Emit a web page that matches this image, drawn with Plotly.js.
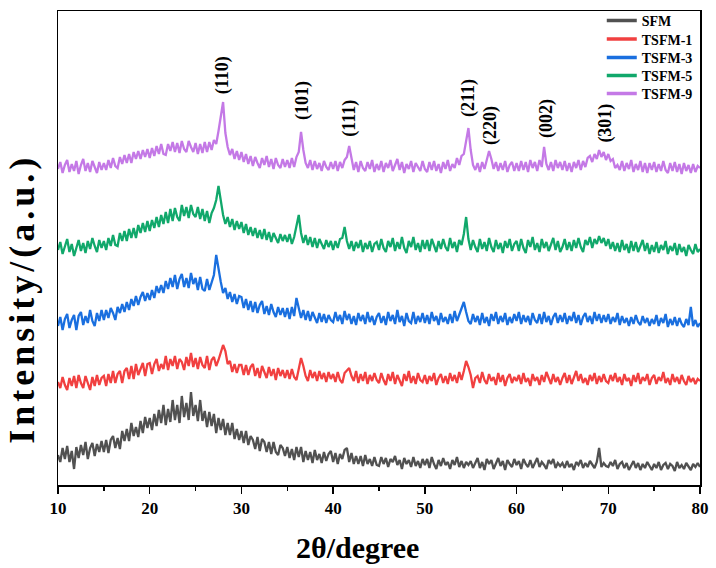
<!DOCTYPE html>
<html>
<head>
<meta charset="utf-8">
<script src="https://cdn.plot.ly/plotly-3.0.1.min.js"></script>
<style>html,body{margin:0;padding:0;background:#fff;}#chart{width:716px;height:568px;}</style>
</head>
<body>
<div id="chart"></div>
<script>
// 2θ grid: 10° to 80°, 0.25° step
const twoThetaStart = 10, twoThetaStep = 0.25, twoThetaCount = 281;

const seriesNames = ["SFM", "TSFM-1", "TSFM-3", "TSFM-5", "TSFM-9"];
const seriesColors = ["#515151", "#F14040", "#1A6FDF", "#11A86B", "#C479E6"];

// Intensities (a.u., offset stacked), one row = 5°
const SFM = [
30,23,37,26,39,23,34,16,38,27,40,30,43,26,37,42,29,41,33,44,
33,45,32,45,49,37,47,36,54,44,56,44,62,49,58,48,64,52,68,57,
67,55,71,59,75,62,80,60,76,63,85,65,80,62,89,68,82,65,93,69,
80,64,85,64,74,58,73,59,71,52,67,55,66,50,62,50,62,46,56,45,
54,42,54,40,49,45,36,48,34,46,43,33,43,31,43,33,30,40,37,29,
38,27,36,25,38,28,38,23,34,25,33,22,35,25,31,22,33,24,31,34,
23,32,21,31,26,35,37,23,32,21,29,21,29,19,30,21,26,19,28,20,
19,28,21,27,18,26,23,29,20,25,16,27,21,25,18,28,19,24,17,26,
20,26,17,28,21,16,25,19,27,20,23,16,25,20,28,18,24,17,23,20,
24,17,22,27,17,23,15,26,21,25,16,22,27,19,24,15,25,21,18,26,
20,24,16,26,21,18,25,17,23,27,18,23,20,16,25,21,26,17,22,19,
22,17,24,18,21,15,23,20,25,17,22,18,24,21,17,23,37,18,22,19,
18,23,19,25,16,21,23,17,22,15,19,24,17,22,15,21,17,23,19,15,
21,17,23,15,20,22,16,21,19,14,23,17,20,16,22,19,15,21,18,22,
18];

const TSFM1 = [
103,97,108,100,95,107,99,109,97,110,102,97,109,101,95,108,99,110,100,107,
109,99,111,102,114,102,111,114,102,114,117,106,119,106,121,110,117,122,109,121,
122,111,121,126,114,121,116,129,115,126,119,129,116,126,123,115,128,119,132,118,
127,116,128,120,117,129,115,125,128,119,125,133,140,134,121,124,113,121,112,120,
120,110,120,110,118,121,109,117,107,119,112,107,118,109,116,105,117,109,115,107,
115,106,116,108,105,117,127,119,109,104,115,107,113,104,114,106,112,103,113,106,
111,103,113,105,102,112,115,117,109,104,114,102,111,104,113,101,110,104,112,105,
102,112,105,100,111,104,113,101,110,105,99,111,104,114,102,109,101,112,105,103,
110,101,109,104,112,100,107,111,102,109,101,112,104,110,102,113,105,114,124,118,
110,97,107,109,102,113,105,101,111,104,108,100,112,103,110,99,107,111,102,108,
104,110,101,112,103,107,99,111,104,108,100,110,103,113,106,101,111,103,108,100,
107,112,102,110,101,108,114,104,111,102,107,100,110,104,112,101,109,103,111,104,
102,110,104,112,103,108,100,111,104,107,99,110,103,112,101,108,104,111,100,107,
110,101,108,104,113,102,107,100,111,103,108,101,110,104,100,109,103,107,101,106,
104];

const TSFM3 = [
159,168,155,166,171,157,165,170,155,169,173,160,169,162,175,164,159,172,164,175,
165,175,167,177,172,165,178,172,181,173,183,175,186,179,189,180,188,193,184,192,
185,195,187,199,192,200,192,204,196,207,198,210,196,206,211,198,207,197,212,201,
207,195,208,196,194,206,195,204,210,230,215,203,192,197,186,193,183,191,181,189,
188,177,186,175,184,173,183,172,180,184,171,179,170,181,173,168,178,170,177,168,
177,166,178,169,187,176,167,175,165,174,164,173,167,162,172,163,171,162,170,165,
163,173,164,170,161,174,165,171,161,169,160,172,164,170,161,173,163,169,160,168,
172,162,169,160,173,164,170,161,175,163,169,159,172,164,162,173,161,169,163,172,
162,170,161,173,164,169,160,172,163,168,161,171,162,174,164,171,177,183,173,164,
161,171,163,169,160,172,162,168,159,171,164,173,161,169,163,172,160,168,162,171,
164,173,161,170,163,169,160,172,165,162,171,161,173,163,169,160,168,172,162,170,
163,172,161,169,164,173,162,170,160,168,172,163,169,161,173,164,171,162,170,163,
171,161,168,163,172,160,169,162,167,159,168,161,170,163,160,169,162,167,159,166,
161,170,159,167,162,171,158,166,160,168,159,167,161,158,166,160,178,159,165,158,
162];

const TSFM5 = [
235,243,231,240,246,233,241,229,238,245,234,242,232,244,236,247,239,233,245,237,
244,235,247,239,250,240,239,252,244,254,244,256,247,257,247,260,252,262,253,264,
254,265,257,268,258,270,261,273,262,276,264,277,268,264,280,269,278,267,280,271,
268,278,266,276,264,274,262,272,277,285,299,285,270,261,268,258,266,255,264,256,
263,252,261,250,258,249,257,247,255,246,256,245,253,243,252,247,242,251,244,250,
243,251,241,248,259,270,252,242,250,240,248,238,247,237,246,240,236,245,238,244,
235,244,237,246,247,258,244,236,244,234,243,237,245,233,242,236,244,233,241,243,
235,246,237,233,244,238,247,234,243,236,248,237,232,244,238,248,235,242,233,245,
236,245,234,246,239,233,244,236,246,238,234,247,237,243,233,245,240,251,268,246,
235,245,238,233,246,236,243,234,247,238,233,245,236,242,232,244,237,246,234,241,
244,234,246,237,232,245,238,248,235,242,233,246,237,243,234,241,247,235,244,233,
238,246,235,243,234,245,237,247,238,233,245,240,248,237,246,241,249,242,247,239,
246,236,243,234,242,233,245,235,241,232,244,234,243,233,240,245,234,242,231,240,
233,243,232,240,235,244,231,239,234,242,230,241,233,238,229,240,235,231,241,233,
236];

const TSFM9 = [
316,323,312,320,325,313,321,314,324,311,320,326,314,322,313,324,318,312,323,315,
322,315,325,317,327,319,317,328,321,330,322,331,322,333,326,334,326,335,328,336,
327,337,329,339,331,341,331,330,341,334,343,333,342,332,344,336,333,344,338,333,
342,331,341,332,343,333,343,335,345,341,354,371,383,352,338,330,336,326,334,325,
333,323,331,321,329,319,328,322,317,327,320,329,318,326,316,327,320,317,326,318,
325,317,327,318,328,333,353,335,322,317,325,315,324,316,322,314,324,318,315,323,
316,324,314,323,317,325,328,339,325,315,323,313,324,317,314,323,316,325,313,321,
315,324,313,322,317,325,314,321,326,315,323,312,321,316,324,313,322,318,314,324,
316,313,323,315,324,314,321,312,323,316,325,314,321,317,327,320,329,331,343,357,
335,320,315,322,313,323,316,325,334,326,316,323,314,322,315,324,313,320,323,314,
322,314,324,315,323,313,325,317,323,314,325,318,338,321,315,323,314,325,317,323,
315,324,314,322,313,323,317,325,315,324,318,327,329,323,331,326,335,328,333,325,
331,324,326,317,320,315,324,314,322,316,325,313,321,315,324,313,322,312,322,315,
323,313,321,314,324,315,312,322,314,323,313,321,311,322,314,320,312,321,313,319,
317];

// Peak (hkl) labels
const peakLabels = ["(110)", "(101)", "(111)", "(211)", "(220)", "(002)", "(301)"];
const peakX = [27.9, 36.6, 41.7, 54.7, 57.1, 63.2, 69.6];
const peakY = [410, 385, 367, 387, 360, 367, 362];

const xAxisTicks = [10, 20, 30, 40, 50, 60, 70, 80];
const xTitle = "2θ/degree";
const yTitle = "Intensity/(a.u.)";

const twoTheta = [];
for (let i = 0; i < twoThetaCount; i++) twoTheta.push(+(twoThetaStart + i * twoThetaStep).toFixed(2));

const allSeries = [SFM, TSFM1, TSFM3, TSFM5, TSFM9];
const FONT = "Liberation Serif, Times New Roman, serif";

const traces = [];
allSeries.forEach((ys, k) => {
  traces.push({
    x: twoTheta, y: ys, type: "scatter", mode: "lines",
    line: {color: seriesColors[k], width: 2.3},
    name: seriesNames[k], showlegend: false, hoverinfo: "skip"
  });
});
// legend entries (thicker sample lines), one small legend per row
const legendIds = ["legend", "legend2", "legend3", "legend4", "legend5"];
const legendRows = [0.979, 0.940, 0.901, 0.863, 0.825];
allSeries.forEach((ys, k) => {
  traces.push({
    x: [null], y: [null], type: "scatter", mode: "lines",
    line: {color: seriesColors[k], width: 3.5},
    name: seriesNames[k], showlegend: true, legend: legendIds[k]
  });
});

const annotations = peakLabels.map((t, i) => ({
  x: peakX[i], y: peakY[i], xref: "x", yref: "y",
  text: t, showarrow: false, textangle: -90,
  xanchor: "center", yanchor: "middle",
  font: {family: FONT, size: 18, color: "#000", weight: "bold"}
}));
annotations.push({
  x: 0.466, y: -0.131, xref: "paper", yref: "paper", text: xTitle, showarrow: false,
  xanchor: "center", yanchor: "middle",
  font: {family: FONT, size: 30, color: "#000", weight: "bold"}
});
annotations.push({
  x: -0.056, y: 0.393, xref: "paper", yref: "paper", text: yTitle, showarrow: false,
  textangle: -90, xanchor: "center", yanchor: "middle",
  font: {family: FONT, size: 36, color: "#000", weight: "bold"}
});

const layout = {
  width: 716, height: 568,
  margin: {l: 58, r: 16, t: 11, b: 83, autoexpand: false},
  paper_bgcolor: "#fff", plot_bgcolor: "#fff",
  showlegend: true,
  xaxis: {
    range: [10, 80], tickvals: xAxisTicks, ticktext: xAxisTicks.map(String),
    ticks: "outside", ticklen: 7, tickwidth: 1.5, tickcolor: "#000",
    minor: {dtick: 5, tick0: 10, ticks: "outside", ticklen: 4, tickwidth: 1.5, tickcolor: "#000", showgrid: false},
    showline: true, linecolor: "#000", linewidth: 1.5, mirror: true,
    showgrid: false, zeroline: false,
    tickfont: {family: FONT, size: 17, color: "#000", weight: "bold"}
  },
  yaxis: {
    range: [0, 474], showticklabels: false, ticks: "",
    showline: true, linecolor: "#000", linewidth: 1.5, mirror: true,
    showgrid: false, zeroline: false
  },
  annotations: annotations
};
legendIds.forEach((id, k) => {
  layout[id] = {
    x: 0.847, xanchor: "left", y: legendRows[k], yanchor: "middle",
    bgcolor: "rgba(0,0,0,0)", borderwidth: 0,
    font: {family: FONT, size: 14, color: "#000", weight: "bold"},
    itemwidth: 30
  };
});

Plotly.newPlot("chart", traces, layout, {displayModeBar: false, staticPlot: true}).then(() => {
  document.querySelectorAll("#chart .annotation-text").forEach(el => {
    if (el.textContent === yTitle) el.style.letterSpacing = "4px";
  });
});
</script>
</body>
</html>
